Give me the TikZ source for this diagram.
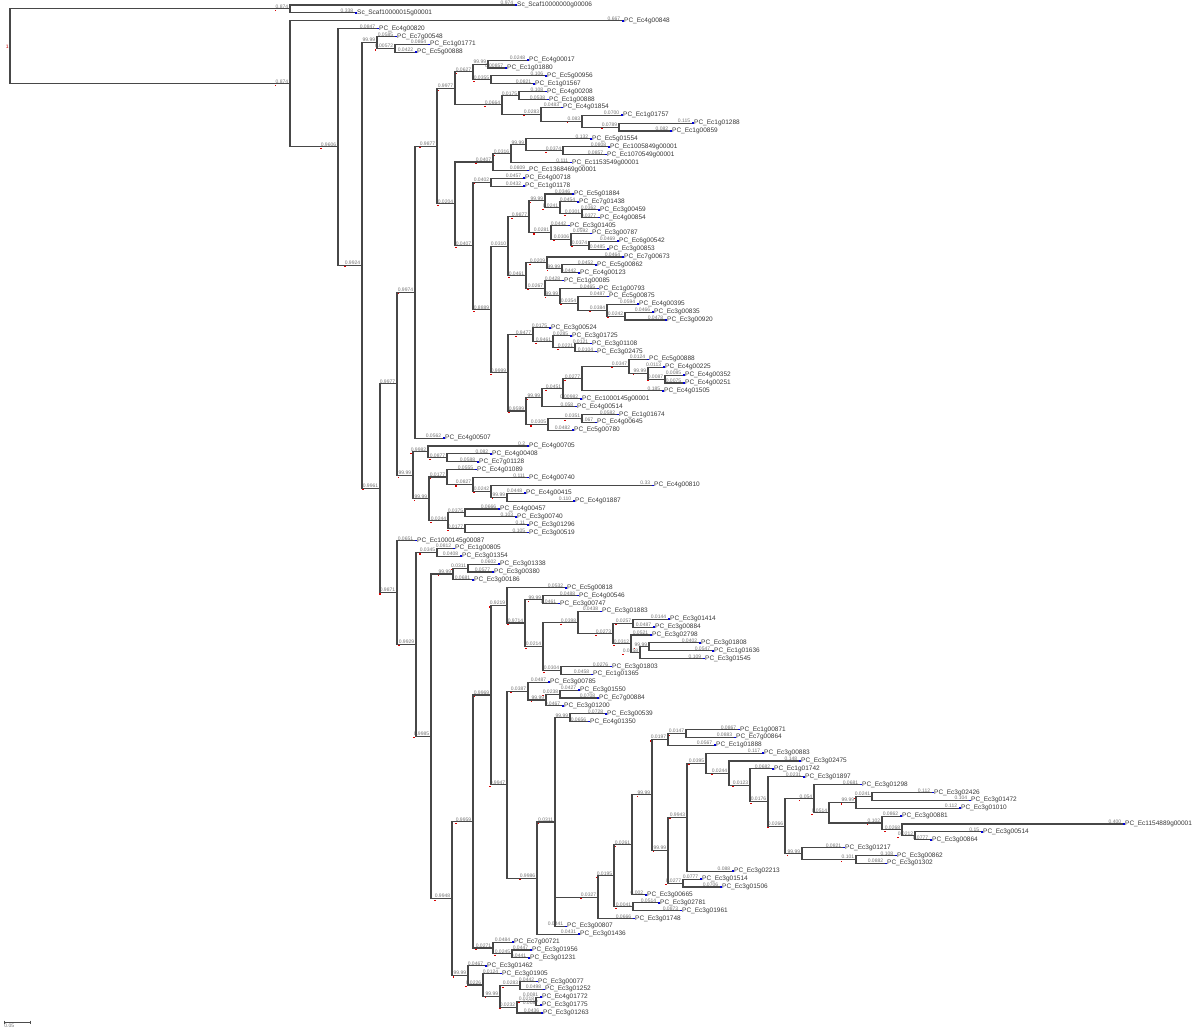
\documentclass[tikz,border=0pt]{standalone}
\usepackage{fontspec}
\setmainfont{Liberation Sans}
\newcommand\pcx{PC\_Ec}
\tikzset{
 br/.style={draw=black!72, line width=1.1pt, line cap=rect},
 bll/.style={anchor=south east, inner sep=0.2pt, font=\fontsize{5}{5}\selectfont, text=black!55},
 il/.style={anchor=south east, inner sep=0.2pt, font=\fontsize{5}{5}\selectfont, text=black!55},
 lt/.style={anchor=west, inner sep=0.4pt, font=\fontsize{6.5}{6.5}\selectfont, text=black!78},
 rd/.style={fill=red!85!black},
 bd/.style={fill=blue!85!black},
}
\newcommand\tleaf[6]{%
  \pgfmathsetmacro\tmpy{5+(#2-1)*7.875}%
  \expandafter\let\csname YY#1\endcsname\tmpy
  \draw[br] (#3,\tmpy) -- (#4,\tmpy);
  \node[bll] at (#4-1.5,\tmpy) {#5};
  \fill[bd] (#4+0.2,\tmpy-0.8) rectangle ++(1.4,1.6);
  \node[lt] (#1) at (#4+1.6,\tmpy) {#6};
}
\newcommand\tnode[6]{%
  \edef\tmpa{\csname YY#4\endcsname}%
  \edef\tmpb{\csname YY#5\endcsname}%
  \pgfmathsetmacro\tmpy{(\tmpa+\tmpb)/2}%
  \expandafter\let\csname YY#1\endcsname\tmpy
  \draw[br] (#3,\tmpa) -- (#3,\tmpb);
  \ifdim #2pt<#3pt
    \draw[br] (#2,\tmpy) -- (#3,\tmpy);
    \node[il] (q#1) at (#3-1.5,\tmpy) {#6};
    \fill[rd] ([yshift=-1.1pt]q#1.south west) rectangle ++(1.1,1.1);
  \fi
}
\begin{document}
\begin{tikzpicture}[x=1pt,y=-1pt]
\fill[white] (0,0) rectangle (1200,1032);
\useasboundingbox (0,0) rectangle (1200,1032);
% leaves
\tleaf{L1}{1}{290}{515}{0.974}{Sc\_Scaf10000000g00006}
\tleaf{L2}{2}{290}{355}{0.338}{Sc\_Scaf10000015g00001}
\tleaf{L3}{3}{290}{622}{0.667}{\pcx 4g00848}
\tleaf{L4}{4}{338}{377}{0.0847}{\pcx 4g00820}
\tleaf{L5}{5}{377}{395}{0.0585}{\pcx 7g00548}
\tleaf{L6}{6}{395}{428}{0.0864}{\pcx 1g01771}
\tleaf{L7}{7}{395}{415}{0.0422}{\pcx 5g00888}
\tleaf{L8}{8}{488}{527}{0.0248}{\pcx 4g00017}
\tleaf{L9}{9}{488}{505}{0.00857}{\pcx 1g01880}
\tleaf{L10}{10}{491}{545}{0.106}{\pcx 5g00956}
\tleaf{L11}{11}{491}{533}{0.0821}{\pcx 1g01567}
\tleaf{L12}{12}{519}{545}{0.108}{\pcx 4g00208}
\tleaf{L13}{13}{519}{547}{0.0538}{\pcx 1g00888}
\tleaf{L14}{14}{541}{561}{0.0483}{\pcx 4g01854}
\tleaf{L15}{15}{582}{621}{0.0700}{\pcx 1g01757}
\tleaf{L16}{16}{619}{692}{0.115}{\pcx 1g01288}
\tleaf{L17}{17}{619}{670}{0.082}{\pcx 1g00859}
\tleaf{L18}{18}{526}{590}{0.132}{\pcx 5g01554}
\tleaf{L19}{19}{563}{608}{0.0808}{\pcx 1005849g00001}
\tleaf{L20}{20}{563}{605}{0.0857}{\pcx 1070549g00001}
\tleaf{L21}{21}{511}{570}{0.111}{\pcx 1153549g00001}
\tleaf{L22}{22}{493}{527}{0.0809}{\pcx 1368469g00001}
\tleaf{L23}{23}{491}{523}{0.0457}{\pcx 4g00718}
\tleaf{L24}{24}{491}{523}{0.0432}{\pcx 1g01178}
\tleaf{L25}{25}{545}{572}{0.0346}{\pcx 5g01884}
\tleaf{L26}{26}{560}{577}{0.0454}{\pcx 7g01438}
\tleaf{L27}{27}{582}{598}{0.0362}{\pcx 3g00459}
\tleaf{L28}{28}{582}{598}{0.0377}{\pcx 4g00854}
\tleaf{L29}{29}{551}{568}{0.0442}{\pcx 3g01405}
\tleaf{L30}{30}{571}{590}{0.0592}{\pcx 3g00787}
\tleaf{L31}{31}{589}{617}{0.0469}{\pcx 6g00542}
\tleaf{L32}{32}{589}{607}{0.0485}{\pcx 3g00853}
\tleaf{L33}{33}{547}{622}{0.0464}{\pcx 7g00673}
\tleaf{L34}{34}{562}{595}{0.0452}{\pcx 5g00862}
\tleaf{L35}{35}{562}{578}{0.0442}{\pcx 4g00123}
\tleaf{L36}{36}{545}{562}{0.0428}{\pcx 1g00085}
\tleaf{L37}{37}{560}{597}{0.0465}{\pcx 1g00793}
\tleaf{L38}{38}{578}{607}{0.0487}{\pcx 5g00875}
\tleaf{L39}{39}{607}{637}{0.0594}{\pcx 4g00395}
\tleaf{L40}{40}{625}{652}{0.0466}{\pcx 3g00835}
\tleaf{L41}{41}{625}{665}{0.0478}{\pcx 3g00920}
\tleaf{L42}{42}{533}{549}{0.0175}{\pcx 3g00524}
\tleaf{L43}{43}{553}{570}{0.0285}{\pcx 3g01725}
\tleaf{L44}{44}{575}{590}{0.0121}{\pcx 3g01108}
\tleaf{L45}{45}{575}{595}{0.0104}{\pcx 3g02475}
\tleaf{L46}{46}{629}{647}{0.0124}{\pcx 5g00888}
\tleaf{L47}{47}{648}{663}{0.0113}{\pcx 4g00225}
\tleaf{L48}{48}{665}{683}{0.0085}{\pcx 4g00352}
\tleaf{L49}{49}{665}{683}{0.0075}{\pcx 4g00251}
\tleaf{L50}{50}{582}{662}{0.185}{\pcx 4g01505}
\tleaf{L51}{51}{563}{580}{0.00982}{\pcx 1000145g00001}
\tleaf{L52}{52}{542}{575}{0.058}{\pcx 4g00514}
\tleaf{L53}{53}{582}{617}{0.0582}{\pcx 1g01674}
\tleaf{L54}{54}{582}{595}{0.067}{\pcx 4g00645}
\tleaf{L55}{55}{548}{572}{0.0482}{\pcx 5g00780}
\tleaf{L56}{56}{415}{443}{0.0562}{\pcx 4g00507}
\tleaf{L57}{57}{428}{527}{0.2}{\pcx 4g00705}
\tleaf{L58}{58}{447}{490}{0.082}{\pcx 4g00408}
\tleaf{L59}{59}{447}{477}{0.0588}{\pcx 7g01128}
\tleaf{L60}{60}{447}{475}{0.0555}{\pcx 4g01089}
\tleaf{L61}{61}{473}{527}{0.111}{\pcx 4g00740}
\tleaf{L62}{62}{491}{652}{0.33}{\pcx 4g00810}
\tleaf{L63}{63}{507}{524}{0.0448}{\pcx 4g00415}
\tleaf{L64}{64}{507}{573}{0.110}{\pcx 4g01887}
\tleaf{L65}{65}{465}{498}{0.0666}{\pcx 4g00457}
\tleaf{L66}{66}{465}{515}{0.103}{\pcx 3g00740}
\tleaf{L67}{67}{465}{527}{0.11}{\pcx 3g01296}
\tleaf{L68}{68}{465}{527}{0.105}{\pcx 3g00519}
\tleaf{L69}{69}{397}{415}{0.0651}{\pcx 1000145g00087}
\tleaf{L70}{70}{437}{453}{0.0812}{\pcx 1g00805}
\tleaf{L71}{71}{437}{460}{0.0408}{\pcx 3g01354}
\tleaf{L72}{72}{468}{498}{0.0602}{\pcx 3g01338}
\tleaf{L73}{73}{468}{492}{0.0577}{\pcx 3g00380}
\tleaf{L74}{74}{453}{472}{0.0681}{\pcx 3g00186}
\tleaf{L75}{75}{507}{565}{0.0532}{\pcx 5g00818}
\tleaf{L76}{76}{543}{577}{0.0488}{\pcx 4g00546}
\tleaf{L77}{77}{543}{558}{0.0461}{\pcx 3g00747}
\tleaf{L78}{78}{578}{600}{0.0438}{\pcx 3g01883}
\tleaf{L79}{79}{633}{668}{0.0144}{\pcx 3g01414}
\tleaf{L80}{80}{633}{653}{0.0487}{\pcx 3g00884}
\tleaf{L81}{81}{631}{650}{0.0521}{\pcx 3g02798}
\tleaf{L82}{82}{649}{699}{0.0402}{\pcx 3g01808}
\tleaf{L83}{83}{649}{712}{0.0547}{\pcx 1g01636}
\tleaf{L84}{84}{640}{703}{0.109}{\pcx 3g01545}
\tleaf{L85}{85}{561}{610}{0.0276}{\pcx 3g01803}
\tleaf{L86}{86}{561}{591}{0.0458}{\pcx 1g01365}
\tleaf{L87}{87}{528}{548}{0.0487}{\pcx 3g00785}
\tleaf{L88}{88}{560}{578}{0.0427}{\pcx 3g01550}
\tleaf{L89}{89}{560}{597}{0.0708}{\pcx 7g00884}
\tleaf{L90}{90}{546}{562}{0.0467}{\pcx 3g01200}
\tleaf{L91}{91}{570}{605}{0.0728}{\pcx 3g00539}
\tleaf{L92}{92}{570}{588}{0.0656}{\pcx 4g01350}
\tleaf{L93}{93}{686}{738}{0.0867}{\pcx 1g00871}
\tleaf{L94}{94}{686}{734}{0.0883}{\pcx 7g00864}
\tleaf{L95}{95}{668}{714}{0.0567}{\pcx 1g01888}
\tleaf{L96}{96}{706}{762}{0.117}{\pcx 3g00883}
\tleaf{L97}{97}{729}{799}{0.148}{\pcx 3g02475}
\tleaf{L98}{98}{750}{772}{0.0682}{\pcx 1g01742}
\tleaf{L99}{99}{768}{803}{0.0231}{\pcx 3g01897}
\tleaf{L100}{100}{814}{860}{0.0681}{\pcx 3g01298}
\tleaf{L101}{101}{872}{932}{0.112}{\pcx 3g02426}
\tleaf{L102}{102}{872}{969}{0.104}{\pcx 3g01472}
\tleaf{L103}{103}{856}{959}{0.112}{\pcx 3g01010}
\tleaf{L104}{104}{882}{900}{0.0862}{\pcx 3g00881}
\tleaf{L105}{105}{902}{1123}{0.400}{\pcx 1154889g00001}
\tleaf{L106}{106}{915}{981}{0.15}{\pcx 3g00514}
\tleaf{L107}{107}{915}{930}{0.0777}{\pcx 3g00864}
\tleaf{L108}{108}{802}{843}{0.0821}{\pcx 3g01217}
\tleaf{L109}{109}{856}{895}{0.108}{\pcx 3g00862}
\tleaf{L110}{110}{856}{885}{0.0882}{\pcx 3g01302}
\tleaf{L111}{111}{687}{732}{0.088}{\pcx 3g02213}
\tleaf{L112}{112}{683}{700}{0.0777}{\pcx 3g01514}
\tleaf{L113}{113}{683}{720}{0.0706}{\pcx 3g01506}
\tleaf{L114}{114}{632}{645}{0.002}{\pcx 3g00665}
\tleaf{L115}{115}{633}{658}{0.0514}{\pcx 3g02781}
\tleaf{L116}{116}{633}{680}{0.0873}{\pcx 3g01961}
\tleaf{L117}{117}{598}{633}{0.0666}{\pcx 3g01748}
\tleaf{L118}{118}{555}{565}{0.0441}{\pcx 3g00807}
\tleaf{L119}{119}{537}{578}{0.0431}{\pcx 3g01436}
\tleaf{L120}{120}{493}{512}{0.0484}{\pcx 7g00721}
\tleaf{L121}{121}{512}{530}{0.0447}{\pcx 3g01956}
\tleaf{L122}{122}{512}{528}{0.0441}{\pcx 3g01231}
\tleaf{L123}{123}{468}{485}{0.0467}{\pcx 3g01462}
\tleaf{L124}{124}{483}{500}{0.0124}{\pcx 3g01905}
\tleaf{L125}{125}{520}{536}{0.0442}{\pcx 3g00077}
\tleaf{L126}{126}{520}{543}{0.0498}{\pcx 3g01252}
\tleaf{L127}{127}{536}{540}{0.0081}{\pcx 4g01772}
\tleaf{L128}{128}{536}{540}{0.0087}{\pcx 3g01775}
\tleaf{L129}{129}{517}{541}{0.0436}{\pcx 3g01263}
% internal nodes, upper clade
\tnode{n488}{473}{488}{L8}{L9}{99.99}
\tnode{n491c}{473}{491}{L10}{L11}{0.0355}
\tnode{n473a}{455}{473}{n488}{n491c}{0.0627}
\tnode{n519}{502}{519}{L12}{L13}{0.0175}
\tnode{n619}{582}{619}{L16}{L17}{0.0789}
\tnode{n582d}{541}{582}{L15}{n619}{0.083}
\tnode{n541}{502}{541}{L14}{n582d}{0.0283}
\tnode{n502}{455}{502}{n519}{n541}{0.0664}
\tnode{n455a}{437}{455}{n473a}{n502}{0.9977}
\tnode{n563c}{526}{563}{L19}{L20}{0.0374}
\tnode{n526c}{511}{526}{L18}{n563c}{99.99}
\tnode{n511}{493}{511}{n526c}{L21}{0.0316}
\tnode{n493}{455}{493}{n511}{L22}{0.0407}
\tnode{n491a}{473}{491}{L23}{L24}{0.0402}
\tnode{n582e}{560}{582}{L27}{L28}{0.0301}
\tnode{n560}{545}{560}{L26}{n582e}{0.0241}
\tnode{n545}{529}{545}{L25}{n560}{99.99}
\tnode{n589}{571}{589}{L31}{L32}{0.0374}
\tnode{n571}{551}{571}{L30}{n589}{0.0306}
\tnode{n551}{529}{551}{L29}{n571}{0.0281}
\tnode{n529}{508}{529}{n545}{n551}{0.9877}
\tnode{n562}{547}{562}{L34}{L35}{99.99}
\tnode{n547}{526}{547}{L33}{n562}{0.0209}
\tnode{n625}{607}{625}{L40}{L41}{0.0242}
\tnode{n607}{578}{607}{L39}{n625}{0.0384}
\tnode{n578}{560}{578}{L38}{n607}{0.0354}
\tnode{n560b}{545}{560}{L37}{n578}{99.99}
\tnode{n545b}{526}{545}{L36}{n560b}{0.0267}
\tnode{n526}{508}{526}{n547}{n545b}{0.0461}
\tnode{n508}{491}{508}{n529}{n526}{0.0310}
\tnode{n575}{553}{575}{L44}{L45}{0.0221}
\tnode{n553}{533}{553}{L43}{n575}{0.9461}
\tnode{n533}{508}{533}{L42}{n553}{0.9477}
\tnode{n665}{648}{665}{L48}{L49}{0.0087}
\tnode{n648}{629}{648}{L47}{n665}{99.99}
\tnode{n629}{582}{629}{L46}{n648}{0.0347}
\tnode{n582b}{563}{582}{n629}{L50}{0.0277}
\tnode{n563}{542}{563}{n582b}{L51}{0.0451}
\tnode{n542}{526}{542}{n563}{L52}{99.99}
\tnode{n582c}{548}{582}{L53}{L54}{0.0351}
\tnode{n548}{526}{548}{n582c}{L55}{0.0305}
\tnode{n526b}{508}{526}{n542}{n548}{0.9599}
\tnode{n508b}{491}{508}{n533}{n526b}{0.9999}
\tnode{n491b}{473}{491}{n508}{n508b}{0.8889}
\tnode{n473}{455}{473}{n491a}{n491b}{0.0407}
\tnode{n455b}{437}{455}{n493}{n473}{0.0204}
\tnode{n437}{415}{437}{n455a}{n455b}{0.9877}
\tnode{n415}{397}{415}{n437}{L56}{0.9974}
\tnode{n447}{428}{447}{L58}{L59}{0.0877}
\tnode{n428}{413}{428}{L57}{n447}{0.9982}
\tnode{n507d}{491}{507}{L63}{L64}{99.99}
\tnode{n491d}{473}{491}{L62}{n507d}{0.0242}
\tnode{n473b}{447}{473}{L61}{n491d}{0.0827}
\tnode{n447b}{429}{447}{L60}{n473b}{0.0177}
\tnode{n465a}{448}{465}{L65}{L66}{0.0375}
\tnode{n465b}{448}{465}{L67}{L68}{0.0177}
\tnode{n448}{429}{448}{n465a}{n465b}{0.0244}
\tnode{n429}{413}{429}{n447b}{n448}{99.99}
\tnode{n413}{397}{413}{n428}{n429}{99.99}
\tnode{n397}{380}{397}{n415}{n413}{0.9977}
% lower clade
\tnode{n437b}{416}{437}{L70}{L71}{0.0345}
\tnode{n468}{453}{468}{L72}{L73}{0.0311}
\tnode{n453}{431}{453}{n468}{L74}{99.99}
\tnode{n543a}{525}{543}{L76}{L77}{99.99}
\tnode{n633}{613}{633}{L79}{L80}{0.0257}
\tnode{n649}{640}{649}{L82}{L83}{99.99}
\tnode{nZ}{631}{640}{n649}{L84}{0.0158}
\tnode{nX}{613}{631}{L81}{nZ}{0.0312}
\tnode{n613}{578}{613}{n633}{nX}{0.0273}
\tnode{m578}{543}{578}{L78}{n613}{0.0398}
\tnode{n561}{543}{561}{L85}{L86}{0.0304}
\tnode{n543b}{525}{543}{m578}{n561}{0.0214}
\tnode{n525}{507}{525}{n543a}{n543b}{0.9714}
\tnode{m507}{491}{507}{L75}{n525}{0.9219}
\tnode{m560}{546}{560}{L88}{L89}{0.0238}
\tnode{n546}{528}{546}{m560}{L90}{99.99}
\tnode{n528}{507}{528}{L87}{n546}{0.0387}
\tnode{n570}{555}{570}{L91}{L92}{99.99}
\tnode{nA}{668}{686}{L93}{L94}{0.0147}
\tnode{nB}{652}{668}{nA}{L95}{0.0197}
\tnode{nO}{902}{915}{L106}{L107}{0.0212}
\tnode{nN}{882}{902}{L105}{nO}{0.0268}
\tnode{nM}{829}{882}{L104}{nN}{0.102}
\tnode{nL2}{856}{872}{L101}{L102}{0.0241}
\tnode{nL}{829}{856}{nL2}{L103}{99.99}
\tnode{nK}{814}{829}{nL}{nM}{0.0514}
\tnode{nJ}{785}{814}{L100}{nK}{0.054}
\tnode{nPP}{802}{856}{L109}{L110}{0.101}
\tnode{nP}{785}{802}{L108}{nPP}{99.99}
\tnode{nI}{768}{785}{nJ}{nP}{0.0266}
\tnode{nH}{750}{768}{L99}{nI}{0.0176}
\tnode{nG}{729}{750}{L98}{nH}{0.0123}
\tnode{nF}{706}{729}{L97}{nG}{0.0244}
\tnode{nE}{687}{706}{L96}{nF}{0.0395}
\tnode{nD}{668}{687}{nE}{L111}{0.9943}
\tnode{nQ}{668}{683}{L112}{L113}{0.0277}
\tnode{nR}{652}{668}{nD}{nQ}{99.99}
\tnode{nC}{632}{652}{nB}{nR}{99.99}
\tnode{n632}{614}{632}{nC}{L114}{0.0261}
\tnode{n633b}{614}{633}{L115}{L116}{0.0041}
\tnode{n614}{598}{614}{n632}{n633b}{0.0195}
\tnode{n598}{555}{598}{n614}{L117}{0.0327}
\tnode{n555}{537}{555}{n570}{L118}{0.0311}
\tnode{n537}{507}{537}{n555}{L119}{0.9986}
\tnode{m507c}{491}{507}{n528}{n537}{0.9947}
\tnode{m491}{473}{491}{m507}{m507c}{0.9969}
\tnode{n512}{493}{512}{L121}{L122}{0.0245}
\tnode{n493c}{473}{493}{L120}{n512}{0.0271}
\tnode{n473c}{452}{473}{m491}{n493c}{0.9959}
\tnode{n536}{517}{536}{L127}{L128}{0.0218}
\tnode{n517}{500}{517}{n536}{L129}{0.0232}
\tnode{n520}{500}{520}{L125}{L126}{0.0283}
\tnode{n500}{483}{500}{n520}{n517}{99.99}
\tnode{n483}{468}{483}{L124}{n500}{0.0226}
\tnode{n468c}{452}{468}{L123}{n483}{99.99}
\tnode{n452}{431}{452}{n473c}{n468c}{0.9948}
\tnode{n431}{416}{431}{n453}{n452}{0.9985}
\tnode{n416}{397}{416}{n437b}{n431}{0.9929}
\tnode{n397b}{380}{397}{L69}{n416}{0.9871}
\tnode{n380}{362}{380}{n397}{n397b}{0.9961}
% top
\tnode{n395}{377}{395}{L6}{L7}{0.00572}
\tnode{n377}{362}{377}{L5}{n395}{99.99}
\tnode{n362}{338}{362}{n377}{n380}{0.9924}
\tnode{n338}{290}{338}{L4}{n362}{0.9606}
\tnode{n290a}{10}{290}{L1}{L2}{0.874}
\tnode{n290b}{10}{290}{L3}{n338}{0.874}
\tnode{root}{10}{10}{n290a}{n290b}{}
\node[il, anchor=east, text=red!80!black] (rootlab) at (9,\csname YYroot\endcsname) {1};
% scale bar
\coordinate (sb1) at (4,1022);
\coordinate (sb2) at (30,1022);
\draw[black!70, line width=0.6pt] (sb1) -- (sb2);
\draw[black!70, line width=0.6pt] ([yshift=1.5pt]sb1) -- ([yshift=-1.5pt]sb1);
\draw[black!70, line width=0.6pt] ([yshift=1.5pt]sb2) -- ([yshift=-1.5pt]sb2);
\node[il, anchor=north west] (sblab) at (4,1023.5) {0.05};
\end{tikzpicture}
\end{document}
